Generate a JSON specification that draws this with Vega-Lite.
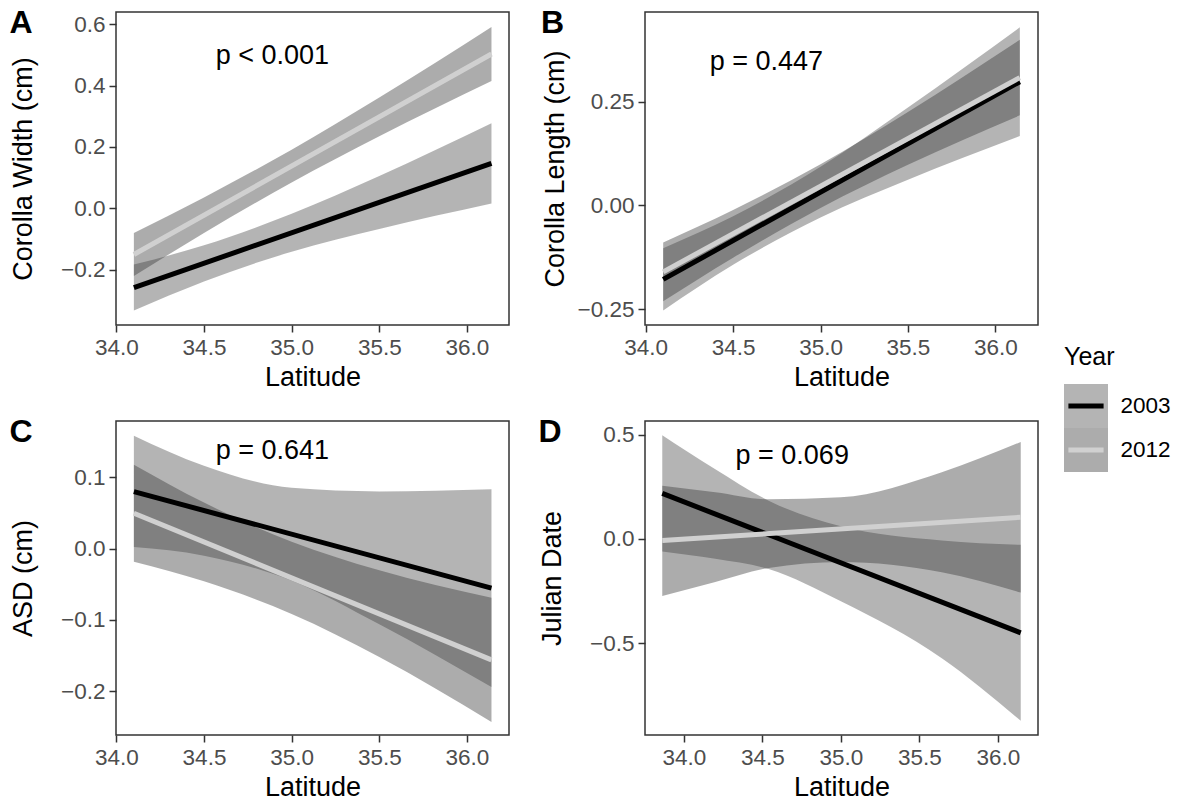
{
  "$schema": "https://vega.github.io/schema/vega-lite/v6.json",
  "background": "white",
  "padding": {"left": 8, "top": 5, "right": 0, "bottom": 0},
  "datasets": {
    "bands": [
      {"p": "A", "Year": "2003", "lat": 34.1, "lo": -0.334, "hi": -0.184},
      {"p": "A", "Year": "2003", "lat": 34.5, "lo": -0.239, "hi": -0.121},
      {"p": "A", "Year": "2003", "lat": 35.0, "lo": -0.142, "hi": -0.018},
      {"p": "A", "Year": "2003", "lat": 35.5, "lo": -0.068, "hi": 0.105},
      {"p": "A", "Year": "2003", "lat": 36.14, "lo": 0.015, "hi": 0.277},
      {"p": "A", "Year": "2012", "lat": 34.1, "lo": -0.221, "hi": -0.081},
      {"p": "A", "Year": "2012", "lat": 34.5, "lo": -0.081, "hi": 0.035},
      {"p": "A", "Year": "2012", "lat": 35.0, "lo": 0.084, "hi": 0.191},
      {"p": "A", "Year": "2012", "lat": 35.5, "lo": 0.235, "hi": 0.361},
      {"p": "A", "Year": "2012", "lat": 36.14, "lo": 0.415, "hi": 0.591},
      {"p": "B", "Year": "2003", "lat": 34.1, "lo": -0.253, "hi": -0.103},
      {"p": "B", "Year": "2003", "lat": 34.5, "lo": -0.143, "hi": -0.026},
      {"p": "B", "Year": "2003", "lat": 35.0, "lo": -0.029, "hi": 0.093},
      {"p": "B", "Year": "2003", "lat": 35.5, "lo": 0.062, "hi": 0.236},
      {"p": "B", "Year": "2003", "lat": 36.14, "lo": 0.167, "hi": 0.429},
      {"p": "B", "Year": "2012", "lat": 34.1, "lo": -0.231, "hi": -0.089},
      {"p": "B", "Year": "2012", "lat": 34.5, "lo": -0.126, "hi": -0.011},
      {"p": "B", "Year": "2012", "lat": 35.0, "lo": -0.006, "hi": 0.099},
      {"p": "B", "Year": "2012", "lat": 35.5, "lo": 0.098, "hi": 0.225},
      {"p": "B", "Year": "2012", "lat": 36.14, "lo": 0.217, "hi": 0.399},
      {"p": "C", "Year": "2003", "lat": 34.1, "lo": 0.002, "hi": 0.158},
      {"p": "C", "Year": "2003", "lat": 34.5, "lo": -0.010, "hi": 0.116},
      {"p": "C", "Year": "2003", "lat": 35.0, "lo": -0.045, "hi": 0.085},
      {"p": "C", "Year": "2003", "lat": 35.5, "lo": -0.106, "hi": 0.080},
      {"p": "C", "Year": "2003", "lat": 36.14, "lo": -0.194, "hi": 0.083},
      {"p": "C", "Year": "2012", "lat": 34.1, "lo": -0.0185, "hi": 0.1175},
      {"p": "C", "Year": "2012", "lat": 34.5, "lo": -0.046, "hi": 0.0644},
      {"p": "C", "Year": "2012", "lat": 35.0, "lo": -0.0917, "hi": 0.0095},
      {"p": "C", "Year": "2012", "lat": 35.5, "lo": -0.152, "hi": -0.0306},
      {"p": "C", "Year": "2012", "lat": 36.14, "lo": -0.243, "hi": -0.069},
      {"p": "D", "Year": "2003", "lat": 33.862, "lo": -0.061, "hi": 0.497},
      {"p": "D", "Year": "2003", "lat": 34.2, "lo": -0.096, "hi": 0.334},
      {"p": "D", "Year": "2003", "lat": 34.54, "lo": -0.145, "hi": 0.183},
      {"p": "D", "Year": "2003", "lat": 35.0, "lo": -0.30, "hi": 0.06},
      {"p": "D", "Year": "2003", "lat": 35.643, "lo": -0.573, "hi": -0.008},
      {"p": "D", "Year": "2003", "lat": 36.146, "lo": -0.873, "hi": -0.029},
      {"p": "D", "Year": "2012", "lat": 33.862, "lo": -0.274, "hi": 0.255},
      {"p": "D", "Year": "2012", "lat": 34.2, "lo": -0.207, "hi": 0.224},
      {"p": "D", "Year": "2012", "lat": 34.54, "lo": -0.14, "hi": 0.19},
      {"p": "D", "Year": "2012", "lat": 35.0, "lo": -0.111, "hi": 0.199},
      {"p": "D", "Year": "2012", "lat": 35.643, "lo": -0.16, "hi": 0.32},
      {"p": "D", "Year": "2012", "lat": 36.146, "lo": -0.258, "hi": 0.465}
    ],
    "lines": [
      {"p": "A", "Year": "2003", "lat": 34.1, "y": -0.259},
      {"p": "A", "Year": "2003", "lat": 36.14, "y": 0.146},
      {"p": "A", "Year": "2012", "lat": 34.1, "y": -0.151},
      {"p": "A", "Year": "2012", "lat": 36.14, "y": 0.503},
      {"p": "B", "Year": "2003", "lat": 34.1, "y": -0.178},
      {"p": "B", "Year": "2003", "lat": 36.14, "y": 0.298},
      {"p": "B", "Year": "2012", "lat": 34.1, "y": -0.160},
      {"p": "B", "Year": "2012", "lat": 36.14, "y": 0.308},
      {"p": "C", "Year": "2003", "lat": 34.1, "y": 0.0798},
      {"p": "C", "Year": "2003", "lat": 36.14, "y": -0.0555},
      {"p": "C", "Year": "2012", "lat": 34.1, "y": 0.0495},
      {"p": "C", "Year": "2012", "lat": 36.14, "y": -0.156},
      {"p": "D", "Year": "2003", "lat": 33.862, "y": 0.218},
      {"p": "D", "Year": "2003", "lat": 36.146, "y": -0.451},
      {"p": "D", "Year": "2012", "lat": 33.862, "y": -0.008},
      {"p": "D", "Year": "2012", "lat": 36.146, "y": 0.1035}
    ],
    "labels": [
      {"p": "A", "lat": 34.89, "y": 0.497, "label": "p < 0.001"},
      {"p": "B", "lat": 34.69, "y": 0.346, "label": "p = 0.447"},
      {"p": "C", "lat": 34.89, "y": 0.137, "label": "p = 0.641"},
      {"p": "D", "lat": 34.69, "y": 0.398, "label": "p = 0.069"}
    ],
    "years": [{"Year": "2003"}, {"Year": "2012"}]
  },
  "hconcat": [
    {
      "concat": [
        {
          "width": 393, "height": 313,
          "title": {"text": "A", "dy": 31.6},
          "layer": [
            {"data": {"name": "bands"}, "transform": [{"filter": "datum.p === 'A'"}],
             "mark": {"type": "area", "interpolate": "monotone", "fillOpacity": 0.413},
             "encoding": {
               "x": {"field": "lat", "type": "quantitative", "scale": {"domain": [33.998, 36.24], "nice": false, "zero": false}, "axis": {"title": "Latitude", "values": [34, 34.5, 35, 35.5, 36], "format": ".1f"}},
               "y": {"field": "lo", "type": "quantitative", "stack": null, "scale": {"domain": [-0.381, 0.64], "nice": false, "zero": false}, "axis": {"title": "Corolla Width (cm)", "values": [-0.2, 0, 0.2, 0.4, 0.6], "format": ".1f", "titlePadding": 23}},
               "y2": {"field": "hi"},
               "fill": {"field": "Year", "type": "nominal", "scale": {"domain": ["2003", "2012"], "range": ["#494949", "#363636"]}, "legend": null}
             }},
            {"data": {"name": "lines"}, "transform": [{"filter": "datum.p === 'A'"}],
             "mark": {"type": "line", "strokeWidth": 5},
             "encoding": {
               "x": {"field": "lat", "type": "quantitative"},
               "y": {"field": "y", "type": "quantitative"},
               "stroke": {"field": "Year", "type": "nominal", "scale": {"domain": ["2003", "2012"], "range": ["#000000", "#D0D0D0"]}, "legend": null}
             }},
            {"data": {"name": "labels"}, "transform": [{"filter": "datum.p === 'A'"}],
             "mark": {"type": "text", "fontSize": 27, "color": "#000000"},
             "encoding": {
               "x": {"field": "lat", "type": "quantitative"},
               "y": {"field": "y", "type": "quantitative"},
               "text": {"field": "label"}
             }}
          ]
        },
        {
          "width": 393, "height": 313,
          "title": {"text": "B", "dy": 31.6},
          "layer": [
            {"data": {"name": "bands"}, "transform": [{"filter": "datum.p === 'B'"}],
             "mark": {"type": "area", "interpolate": "monotone", "fillOpacity": 0.413},
             "encoding": {
               "x": {"field": "lat", "type": "quantitative", "scale": {"domain": [33.996, 36.244], "nice": false, "zero": false}, "axis": {"title": "Latitude", "values": [34, 34.5, 35, 35.5, 36], "format": ".1f"}},
               "y": {"field": "lo", "type": "quantitative", "stack": null, "scale": {"domain": [-0.288, 0.466], "nice": false, "zero": false}, "axis": {"title": "Corolla Length (cm)", "values": [-0.25, 0, 0.25], "format": ".2f", "titlePadding": 8}},
               "y2": {"field": "hi"},
               "fill": {"field": "Year", "type": "nominal", "scale": {"domain": ["2003", "2012"], "range": ["#494949", "#363636"]}, "legend": null}
             }},
            {"data": {"name": "lines"}, "transform": [{"filter": "datum.p === 'B'"}],
             "mark": {"type": "line", "strokeWidth": 5},
             "encoding": {
               "x": {"field": "lat", "type": "quantitative"},
               "y": {"field": "y", "type": "quantitative"},
               "stroke": {"field": "Year", "type": "nominal", "scale": {"domain": ["2003", "2012"], "range": ["#000000", "#D0D0D0"]}, "legend": null}
             }},
            {"data": {"name": "labels"}, "transform": [{"filter": "datum.p === 'B'"}],
             "mark": {"type": "text", "fontSize": 27, "color": "#000000"},
             "encoding": {
               "x": {"field": "lat", "type": "quantitative"},
               "y": {"field": "y", "type": "quantitative"},
               "text": {"field": "label"}
             }}
          ]
        },
        {
          "width": 393, "height": 314,
          "title": {"text": "C", "dy": 31.6},
          "layer": [
            {"data": {"name": "bands"}, "transform": [{"filter": "datum.p === 'C'"}],
             "mark": {"type": "area", "interpolate": "monotone", "fillOpacity": 0.413},
             "encoding": {
               "x": {"field": "lat", "type": "quantitative", "scale": {"domain": [33.998, 36.24], "nice": false, "zero": false}, "axis": {"title": "Latitude", "values": [34, 34.5, 35, 35.5, 36], "format": ".1f"}},
               "y": {"field": "lo", "type": "quantitative", "stack": null, "scale": {"domain": [-0.2613, 0.1787], "nice": false, "zero": false}, "axis": {"title": "ASD (cm)", "values": [-0.2, -0.1, 0, 0.1], "format": ".1f", "titlePadding": 23}},
               "y2": {"field": "hi"},
               "fill": {"field": "Year", "type": "nominal", "scale": {"domain": ["2003", "2012"], "range": ["#494949", "#363636"]}, "legend": null}
             }},
            {"data": {"name": "lines"}, "transform": [{"filter": "datum.p === 'C'"}],
             "mark": {"type": "line", "strokeWidth": 5},
             "encoding": {
               "x": {"field": "lat", "type": "quantitative"},
               "y": {"field": "y", "type": "quantitative"},
               "stroke": {"field": "Year", "type": "nominal", "scale": {"domain": ["2003", "2012"], "range": ["#000000", "#D0D0D0"]}, "legend": null}
             }},
            {"data": {"name": "labels"}, "transform": [{"filter": "datum.p === 'C'"}],
             "mark": {"type": "text", "fontSize": 27, "color": "#000000"},
             "encoding": {
               "x": {"field": "lat", "type": "quantitative"},
               "y": {"field": "y", "type": "quantitative"},
               "text": {"field": "label"}
             }}
          ]
        },
        {
          "width": 393, "height": 314,
          "title": {"text": "D", "dy": 31.6},
          "layer": [
            {"data": {"name": "bands"}, "transform": [{"filter": "datum.p === 'D'"}],
             "mark": {"type": "area", "interpolate": "monotone", "fillOpacity": 0.413},
             "encoding": {
               "x": {"field": "lat", "type": "quantitative", "scale": {"domain": [33.752, 36.256], "nice": false, "zero": false}, "axis": {"title": "Latitude", "values": [34, 34.5, 35, 35.5, 36], "format": ".1f"}},
               "y": {"field": "lo", "type": "quantitative", "stack": null, "scale": {"domain": [-0.9415, 0.5655], "nice": false, "zero": false}, "axis": {"title": "Julian Date", "values": [-0.5, 0, 0.5], "format": ".1f", "titlePadding": 23}},
               "y2": {"field": "hi"},
               "fill": {"field": "Year", "type": "nominal", "scale": {"domain": ["2003", "2012"], "range": ["#494949", "#363636"]}, "legend": null}
             }},
            {"data": {"name": "lines"}, "transform": [{"filter": "datum.p === 'D'"}],
             "mark": {"type": "line", "strokeWidth": 5},
             "encoding": {
               "x": {"field": "lat", "type": "quantitative"},
               "y": {"field": "y", "type": "quantitative"},
               "stroke": {"field": "Year", "type": "nominal", "scale": {"domain": ["2003", "2012"], "range": ["#000000", "#D0D0D0"]}, "legend": null}
             }},
            {"data": {"name": "labels"}, "transform": [{"filter": "datum.p === 'D'"}],
             "mark": {"type": "text", "fontSize": 27, "color": "#000000"},
             "encoding": {
               "x": {"field": "lat", "type": "quantitative"},
               "y": {"field": "y", "type": "quantitative"},
               "text": {"field": "label"}
             }}
          ]
        }
      ],
      "columns": 2,
      "spacing": {"row": 22, "column": 27}
    },
    {
      "vconcat": [
        {
          "width": 44, "height": 333,
          "view": {"stroke": null},
          "data": {"name": "years"},
          "transform": [{"filter": "false"}],
          "mark": "rect",
          "encoding": {}
        },
        {
          "width": 44, "height": 88,
          "view": {"stroke": null},
          "title": {"text": "Year", "fontSize": 25, "fontWeight": "normal", "offset": 14, "dy": 0},
          "data": {"name": "years"},
          "layer": [
            {"mark": {"type": "rect", "fillOpacity": 0.413},
             "encoding": {
               "y": {"field": "Year", "type": "nominal", "scale": {"paddingInner": 0, "paddingOuter": 0}, "axis": {"orient": "right", "title": null, "ticks": false, "domain": false, "labelPadding": 12, "labelFontSize": 22.5, "labelColor": "#000000"}},
               "x": {"datum": 0, "type": "quantitative", "scale": {"domain": [0, 1], "nice": false, "zero": false}, "axis": null},
               "x2": {"datum": 1},
               "fill": {"field": "Year", "type": "nominal", "scale": {"domain": ["2003", "2012"], "range": ["#494949", "#363636"]}, "legend": null}
             }},
            {"mark": {"type": "rule", "strokeWidth": 5},
             "encoding": {
               "y": {"field": "Year", "type": "nominal"},
               "x": {"datum": 0.1, "type": "quantitative"},
               "x2": {"datum": 0.9},
               "stroke": {"field": "Year", "type": "nominal", "scale": {"domain": ["2003", "2012"], "range": ["#000000", "#D0D0D0"]}, "legend": null}
             }}
          ]
        }
      ],
      "spacing": 0
    }
  ],
  "spacing": 25,
  "config": {
    "font": "Liberation Sans",
    "view": {"stroke": "#333333", "strokeWidth": 1.5},
    "title": {"anchor": "start", "frame": "bounds", "fontSize": 32, "fontWeight": "bold", "font": "Liberation Sans", "color": "#000000", "offset": 0, "baseline": "top"},
    "axis": {"domain": false, "grid": false, "tickColor": "#333333", "tickWidth": 1.5, "tickSize": 7, "labelFont": "Liberation Sans", "labelFontSize": 22.5, "labelColor": "#4D4D4D", "labelPadding": 4, "labelFlush": false, "labelOverlap": false, "titleFont": "Liberation Sans", "titleFontSize": 27, "titleFontWeight": "normal", "titleColor": "#000000"},
    "axisX": {"titlePadding": 6},
    "text": {"font": "Liberation Sans"}
  }
}
